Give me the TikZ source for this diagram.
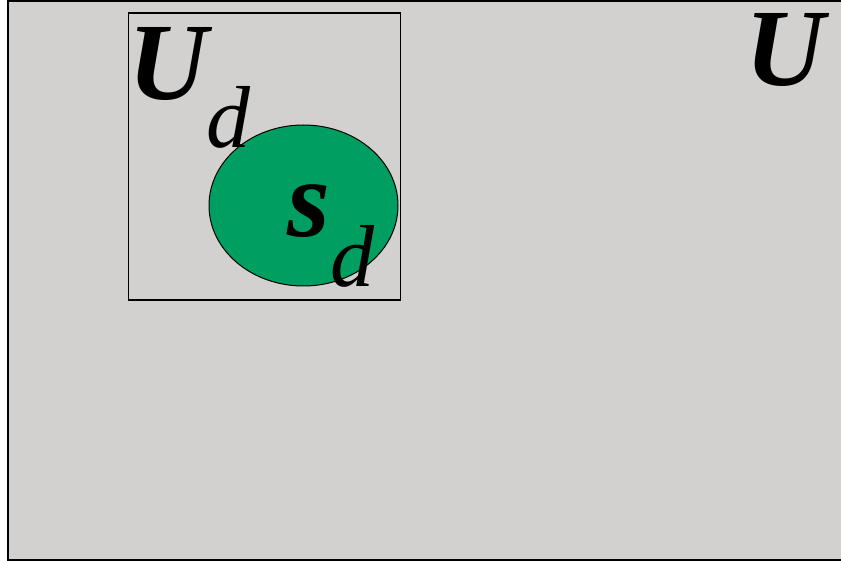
\documentclass[tikz,border=0pt]{standalone}
\usepackage{fontspec}
\setmainfont{Liberation Serif}
\usetikzlibrary{shapes.geometric}
\definecolor{bggray}{RGB}{211,209,207}
\definecolor{setgreen}{RGB}{0,158,96}
\begin{document}
\begin{tikzpicture}[x=1pt,y=-1pt,
  biglabel/.style={inner sep=0pt,font=\fontsize{110}{114}\selectfont\bfseries\itshape},
  sublabel/.style={inner sep=0pt,font=\fontsize{88}{92}\selectfont\itshape}]
\useasboundingbox (0,0) rectangle (841,561);
\draw[line width=2pt,fill=bggray] (8,1) rectangle (850,560);
\node[draw,line width=1.3pt,minimum width=272pt,minimum height=287pt,inner sep=0pt] (box) at (264.7,156.4) {};
\node[ellipse,draw,line width=1pt,fill=setgreen,minimum width=189pt,minimum height=161pt,inner sep=0pt] (set) at (303.5,205.5) {};
\node[biglabel] (U1) at (168,64) {U};
\node[sublabel] (d1) at (228,117) {d};
\node[biglabel] (s) at (309,211) {s};
\node[sublabel] (d2) at (352,256) {d};
\node[biglabel] (U2) at (785,50) {U};
\end{tikzpicture}
\end{document}
